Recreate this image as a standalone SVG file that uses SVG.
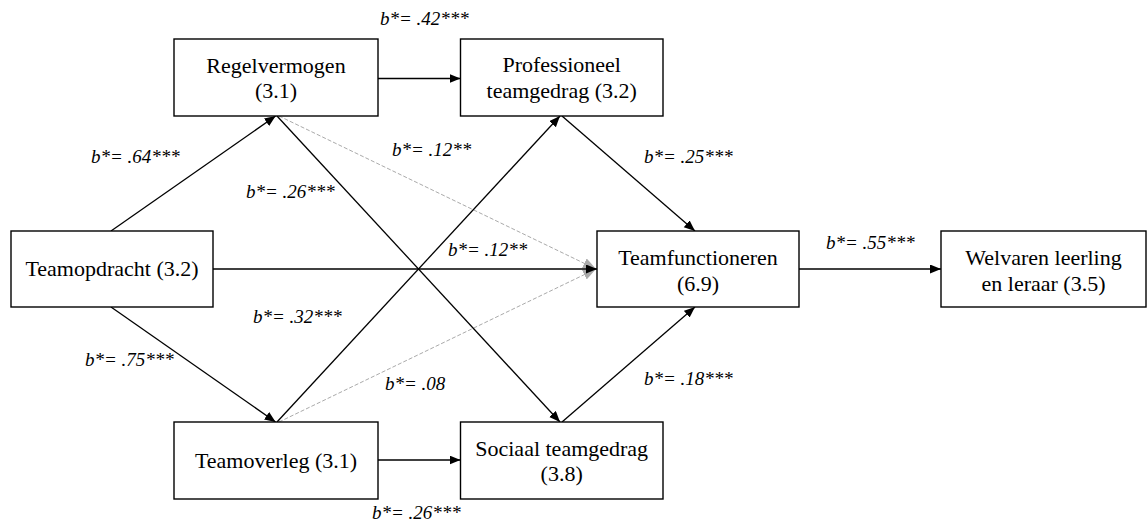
<svg xmlns="http://www.w3.org/2000/svg" width="1148" height="524" viewBox="0 0 1148 524">
<style>
.box{fill:#fff;stroke:#000;stroke-width:1.4}
.t{font-family:"Liberation Serif",serif;font-size:22px;fill:#000;text-anchor:middle}
.lb{font-family:"Liberation Serif",serif;font-size:19px;font-style:italic;fill:#000}
.c{stroke:#000;stroke-width:1.3;fill:none;marker-end:url(#ah)}
.g{stroke:#aaa;stroke-width:1;stroke-dasharray:4 2;fill:none;marker-end:url(#ag)}
</style>
<defs>
<marker id="ah" markerUnits="userSpaceOnUse" markerWidth="12" markerHeight="10" refX="11" refY="4.5" orient="auto"><path d="M0,0 L11,4.5 L0,9 z" fill="#000"/></marker>
<marker id="ag" markerUnits="userSpaceOnUse" markerWidth="14" markerHeight="12" refX="13" refY="5.5" orient="auto"><path d="M0,0 L13,5.5 L0,11 z" fill="#aaa"/></marker>
</defs>
<rect width="1148" height="524" fill="#fff"/>
<g id="connectors">
<line class="g" x1="279" y1="116" x2="596" y2="269"/>
<line class="g" x1="279" y1="422" x2="596" y2="269"/>
<line class="c" x1="378" y1="78.5" x2="460.5" y2="78.5"/>
<line class="c" x1="111" y1="231" x2="275.6" y2="116"/>
<line class="c" x1="111" y1="307" x2="275.6" y2="422"/>
<line class="c" x1="277" y1="116" x2="560" y2="422"/>
<line class="c" x1="277" y1="422" x2="560" y2="116"/>
<line class="c" x1="213" y1="269" x2="597" y2="269"/>
<line class="c" x1="562" y1="116" x2="695" y2="231"/>
<line class="c" x1="562" y1="422" x2="695" y2="307"/>
<line class="c" x1="799" y1="269" x2="941" y2="269"/>
<line class="c" x1="378" y1="460" x2="460.5" y2="460"/>
</g>
<g id="labels">
<text class="lb" x="380" y="25">b*= .42***</text>
<text class="lb" x="91" y="163">b*= .64***</text>
<text class="lb" x="246" y="198">b*= .26***</text>
<text class="lb" x="392" y="156">b*= .12**</text>
<text class="lb" x="448" y="256">b*= .12**</text>
<text class="lb" x="253" y="323">b*= .32***</text>
<text class="lb" x="85" y="366">b*= .75***</text>
<text class="lb" x="385" y="390">b*= .08</text>
<text class="lb" x="372" y="519">b*= .26***</text>
<text class="lb" x="644" y="163">b*= .25***</text>
<text class="lb" x="826" y="249">b*= .55***</text>
<text class="lb" x="644" y="385">b*= .18***</text>
</g>
<g id="regelvermogen">
<rect class="box" x="174" y="39" width="204" height="77"/>
<text class="t" x="276" y="73">Regelvermogen</text>
<text class="t" x="276" y="98">(3.1)</text>
</g>
<g id="professioneel">
<rect class="box" x="460.5" y="39" width="202.5" height="77"/>
<text class="t" x="561.7" y="72">Professioneel</text>
<text class="t" x="561.7" y="98">teamgedrag (3.2)</text>
</g>
<g id="teamopdracht">
<rect class="box" x="11" y="231" width="202" height="76"/>
<text class="t" x="112" y="276">Teamopdracht (3.2)</text>
</g>
<g id="teamoverleg">
<rect class="box" x="174" y="422" width="204" height="77"/>
<text class="t" x="276" y="468">Teamoverleg (3.1)</text>
</g>
<g id="sociaal">
<rect class="box" x="460.5" y="422" width="202.5" height="77"/>
<text class="t" x="561.7" y="456">Sociaal teamgedrag</text>
<text class="t" x="561.7" y="481">(3.8)</text>
</g>
<g id="teamfunctioneren">
<rect class="box" x="597" y="231" width="202" height="76"/>
<text class="t" x="698" y="265">Teamfunctioneren</text>
<text class="t" x="698" y="291">(6.9)</text>
</g>
<g id="welvaren">
<rect class="box" x="941" y="231" width="205" height="76"/>
<text class="t" x="1043.5" y="265">Welvaren leerling</text>
<text class="t" x="1043.5" y="291">en leraar (3.5)</text>
</g>
</svg>
